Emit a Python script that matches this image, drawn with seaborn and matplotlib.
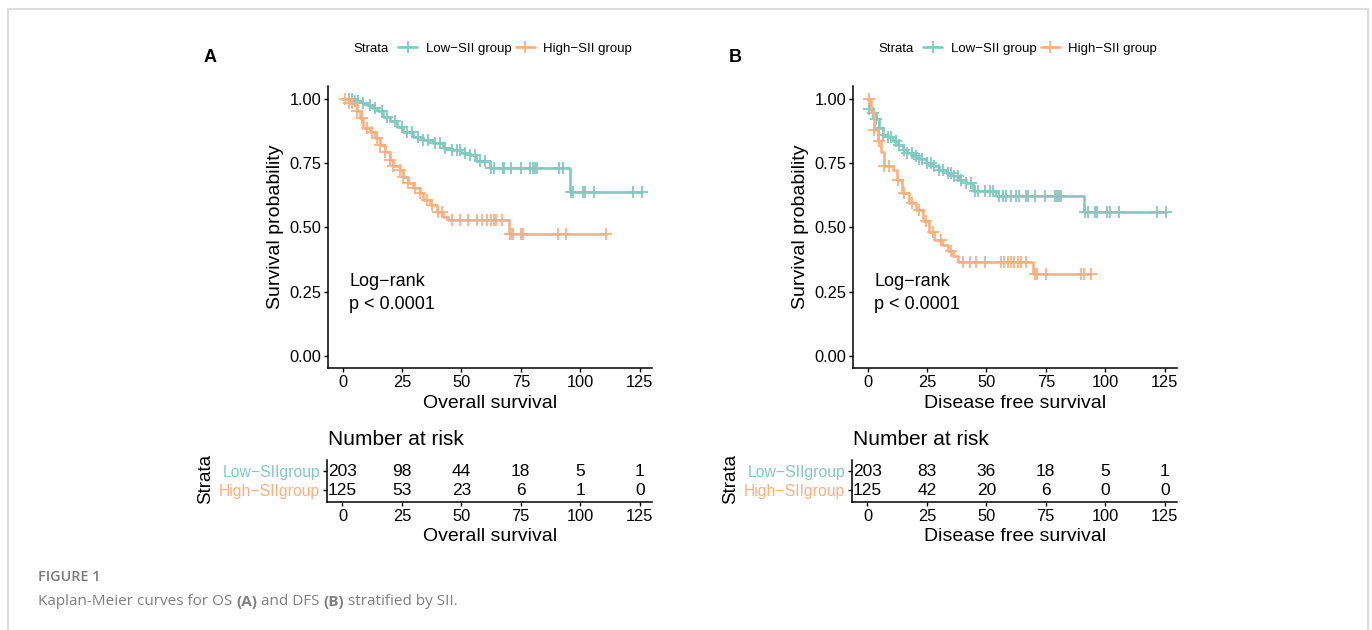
import numpy as np
import pandas as pd
import matplotlib
matplotlib.use("Agg")
import matplotlib.pyplot as plt
import seaborn as sns
from matplotlib.lines import Line2D

# ---- data ----
lowColor = "#82C9BF"
highColor = "#FCB07F"
groupLabels = ["Low\u2212SII group", "High\u2212SII group"]
riskRowLabels = ["Low\u2212SIIgroup", "High\u2212SIIgroup"]
riskTimes = [0, 25, 50, 75, 100, 125]
xTicks = [0, 25, 50, 75, 100, 125]
yTicks = [0.00, 0.25, 0.50, 0.75, 1.00]

# panel A: overall survival (step start times, survival after step)
osLowT = [0, 4.6, 8, 10.2, 13, 15.1, 17.2, 20, 22.8, 25.6, 29.8, 34, 38.2, 42.4, 46, 50, 53.6, 56, 62, 95.8]
osLowS = [1.0, 0.99, 0.985, 0.978, 0.964, 0.951, 0.931, 0.912, 0.892, 0.873, 0.853, 0.84, 0.828, 0.808, 0.80, 0.79, 0.78, 0.76, 0.731, 0.637]
osLowCens = [2.5, 3.9, 5.3, 6.7, 8.8, 11.6, 13.7, 16.5, 18.6, 22.1, 24.9, 27, 29.1, 31.9, 34, 36.1, 38.9, 41, 43.1, 46,
             48.1, 49.5, 51.6, 53.7, 55.8, 57.9, 60, 62.4, 63.5, 67.4, 68, 70.8, 75, 78.9, 80, 81, 82, 91.1, 92.9,
             96.2, 96.8, 101.1, 102.1, 105.8, 122, 125.9]
osHighT = [0, 2.5, 6, 7.4, 8.8, 11.6, 13.7, 15.8, 17.9, 20, 21.4, 24.2, 25.6, 27.7, 29.8, 32.6, 34, 36.8, 39.6, 42.4, 44.5, 70.1]
osHighS = [1.0, 0.983, 0.951, 0.925, 0.886, 0.873, 0.847, 0.821, 0.795, 0.763, 0.737, 0.724, 0.698, 0.672, 0.652, 0.633,
           0.607, 0.588, 0.561, 0.542, 0.528, 0.475]
osHighCens = [1.1, 2.5, 3.9, 6, 8.1, 10.2, 12.3, 14.4, 15.8, 17.9, 20, 21.4, 24.2, 25.6, 27.7, 30.5, 32.6, 35.4, 37.5,
              40.3, 41.8, 46, 49.5, 52.9, 56.5, 58.6, 60.7, 62.4, 63.5, 64.6, 67, 70.5, 71.2, 71.9, 75.1, 75.8, 90.8,
              94.1, 110.9]
osRiskLow = [203, 98, 44, 18, 5, 1]
osRiskHigh = [125, 53, 23, 6, 1, 0]

# panel B: disease free survival
dfsLowT = [0, 0.7, 2.1, 3.5, 4.9, 6.3, 8.4, 10.5, 12.6, 14.7, 16.8, 19, 21.5, 24.6, 27.5, 30.2, 33, 35.8, 38.5, 41.4, 44.2, 54, 91]
dfsLowS = [1.0, 0.96, 0.944, 0.92, 0.887, 0.861, 0.85, 0.835, 0.82, 0.803, 0.79, 0.777, 0.765, 0.751, 0.738, 0.725,
           0.712, 0.699, 0.686, 0.673, 0.641, 0.621, 0.558]
dfsLowCens = [0.7, 2.1, 3.5, 4.9, 6.3, 8.4, 9.8, 11.9, 13.3, 15.4, 16.8, 18.9, 20.3, 21.7, 23.1, 25.2, 26.7, 28.1, 30.2,
              31.6, 33.7, 35.1, 36.5, 37.9, 39.3, 41.4, 43.5, 45, 46.4, 49.2, 51.3, 52.7, 55.5, 56.9, 58.3, 60.4, 62.5,
              63.5, 66.7, 67.7, 70.5, 74.8, 78.7, 79.7, 80.5, 81.5, 91.5, 92.7, 95.5, 96.5, 100.9, 101.9, 105.6, 121.8,
              125.7]
dfsHighT = [0, 1.5, 2.5, 4.5, 5.5, 7, 10.5, 12.5, 14.5, 17.5, 20.5, 23.5, 26, 28, 31.5, 34, 36, 38, 69.8]
dfsHighS = [1.0, 0.95, 0.88, 0.835, 0.795, 0.738, 0.725, 0.685, 0.633, 0.595, 0.568, 0.524, 0.482, 0.45, 0.433, 0.41,
            0.39, 0.365, 0.32]
dfsHighCens = [0.7, 2.8, 4.9, 7.0, 9.1, 12.6, 15.4, 18.9, 21.5, 24.5, 27.4, 30.9, 35.1, 40.1, 42.9, 45.7, 49.2, 56.2,
               57.6, 59.0, 60.4, 61.8, 63.2, 64.6, 66.7, 70.5, 71.4, 75.2, 89.9, 90.9, 93.8]
dfsRiskLow = [203, 83, 36, 18, 5, 1]
dfsRiskHigh = [125, 42, 20, 6, 0, 0]

W, H = 1372, 630


def px(x, y, w, h):
    # pixel box (top-left origin) -> figure fraction
    return [x / W, 1 - (y + h) / H, w / W, h / H]


def kmFrame(stepT, stepS, endT):
    return pd.DataFrame({"time": list(stepT) + [endT], "surv": list(stepS) + [stepS[-1]]})


def survAt(stepT, stepS, t):
    idx = np.searchsorted(np.asarray(stepT), np.asarray(t), side="right") - 1
    return np.asarray(stepS)[idx]


def styleSpines(ax):
    for s in ["top", "right"]:
        ax.spines[s].set_visible(False)
    for s in ["left", "bottom"]:
        ax.spines[s].set_linewidth(1.1)
        ax.spines[s].set_color("black")


def drawPanel(fig, x0, letter, curves, riskLow, riskHigh, xlabel):
    ax = fig.add_axes(px(x0, 86, 324, 282.3))
    for stepT, stepS, cens, col in curves:
        df = kmFrame(stepT, stepS, cens[-1])
        sns.lineplot(data=df, x="time", y="surv", estimator=None, sort=False,
                     drawstyle="steps-post", color=col, linewidth=1.9, ax=ax)
        ax.plot(cens, survAt(stepT, stepS, cens), linestyle="none", marker="+",
                markersize=8, markeredgewidth=1.3, color=col)
    ax.set_xlim(-6, 130.3)
    ax.set_ylim(-0.048, 1.05)
    ax.set_xticks(xTicks)
    ax.set_yticks(yTicks)
    ax.set_yticklabels([f"{v:.2f}" for v in yTicks])
    ax.tick_params(labelsize=11.8, length=3, width=1, pad=2, colors="black")
    styleSpines(ax)
    ax.set_xlabel(xlabel, fontsize=14)
    ax.set_ylabel("Survival probability", fontsize=14)
    ax.xaxis.set_label_coords(0.5, -0.126)
    ax.yaxis.set_label_coords(-0.164, 0.5)
    ax.xaxis.label.set_va("center")
    ax.yaxis.label.set_va("center")
    ax.text(2.9, 0.244, "Log\u2212rank\np < 0.0001", fontsize=13, ha="left", va="center", linespacing=1.45)

    # legend on top
    fig.text((x0 + 25) / W, 1 - 49 / H, "Strata", fontsize=9.5, ha="left", va="center")
    handles = [Line2D([], [], color=c, linewidth=1.9, marker="+", markersize=8, markeredgewidth=1.3)
               for c in [lowColor, highColor]]
    fig.legend(handles, groupLabels, loc="center left", bbox_to_anchor=((x0 + 70) / W, 1 - 49 / H),
               ncol=2, frameon=False, fontsize=9.5, handlelength=1.45, handletextpad=0.65,
               columnspacing=0.3, borderpad=0, borderaxespad=0)
    fig.text((x0 - 118) / W, 1 - 58 / H, letter, fontsize=13, fontweight="bold", ha="center", va="center")

    # risk table
    axR = fig.add_axes(px(x0 - 1.3, 460, 325.3, 41.7))
    axR.set_xlim(-6.5, 130.3)
    axR.set_ylim(0.4, 2.6)
    for t, lo, hi in zip(riskTimes, riskLow, riskHigh):
        axR.text(t, 2, str(lo), fontsize=12.5, ha="center", va="center")
        axR.text(t, 1, str(hi), fontsize=12.5, ha="center", va="center")
    axR.set_xticks(xTicks)
    axR.set_yticks([2, 1])
    axR.set_yticklabels(riskRowLabels)
    for lab, c in zip(axR.get_yticklabels(), [lowColor, highColor]):
        lab.set_color(c)
    axR.tick_params(axis="y", labelsize=11.3, length=3, width=1, pad=2, color="black")
    axR.tick_params(axis="x", labelsize=11.8, length=3, width=1, pad=2, colors="black")
    styleSpines(axR)
    axR.set_xlabel(xlabel, fontsize=14)
    axR.set_ylabel("Strata", fontsize=13.5)
    axR.xaxis.set_label_coords(0.5, -0.84)
    axR.yaxis.set_label_coords(-0.372, 0.55)
    axR.xaxis.label.set_va("center")
    axR.yaxis.label.set_va("center")
    axR.text(0.004, 1.48, "Number at risk", fontsize=15, ha="left", va="center", transform=axR.transAxes)


sns.set_style("ticks")
plt.rcParams["font.family"] = ["Liberation Sans", "DejaVu Sans"]
plt.rcParams["text.color"] = "black"
plt.rcParams["axes.labelcolor"] = "black"
plt.rcParams["xtick.color"] = "black"
plt.rcParams["ytick.color"] = "black"

fig = plt.figure(figsize=(W / 100, H / 100), dpi=100)

drawPanel(fig, 328.3, "A",
          [(osLowT, osLowS, osLowCens, lowColor), (osHighT, osHighS, osHighCens, highColor)],
          osRiskLow, osRiskHigh, "Overall survival")
drawPanel(fig, 853.3, "B",
          [(dfsLowT, dfsLowS, dfsLowCens, lowColor), (dfsHighT, dfsHighS, dfsHighCens, highColor)],
          dfsRiskLow, dfsRiskHigh, "Disease free survival")

# caption and page frame
capAx = fig.add_axes([0, 0, 1, 1], zorder=-1)
capAx.axis("off")
capAx.set_xlim(0, 1)
capAx.set_ylim(0, 1)
capFont = ["Open Sans", "DejaVu Sans"]
capAx.text(38 / W, 1 - 577 / H, "FIGURE 1", fontsize=10.4, fontweight="semibold", color="#7a7a7a",
           family=capFont, ha="left", va="center")
pieces = [("Kaplan-Meier curves for OS ", "normal"), ("(A)", "bold"), (" and DFS ", "normal"),
          ("(B)", "bold"), (" stratified by SII.", "normal")]
prev = None
for txt, wt in pieces:
    if prev is None:
        prev = capAx.text(38 / W, 1 - 609 / H, txt, fontsize=11, fontweight=wt, color="#7f7f7f",
                          family=capFont, ha="left", va="bottom")
    else:
        prev = capAx.annotate(txt, xy=(1, 0), xycoords=prev, fontsize=11, fontweight=wt, color="#7f7f7f",
                              family=capFont, ha="left", va="bottom")

frameColor = "#dcdcdc"
fig.add_artist(Line2D([8 / W, 8 / W], [0, 1 - 9 / H], transform=fig.transFigure, color=frameColor, lw=1.5))
fig.add_artist(Line2D([8 / W, 1368 / W], [1 - 9 / H, 1 - 9 / H], transform=fig.transFigure, color=frameColor, lw=1.5))
fig.add_artist(Line2D([1368 / W, 1368 / W], [0, 1 - 9 / H], transform=fig.transFigure, color=frameColor, lw=1.5))

fig.savefig("out.png", dpi=100)
